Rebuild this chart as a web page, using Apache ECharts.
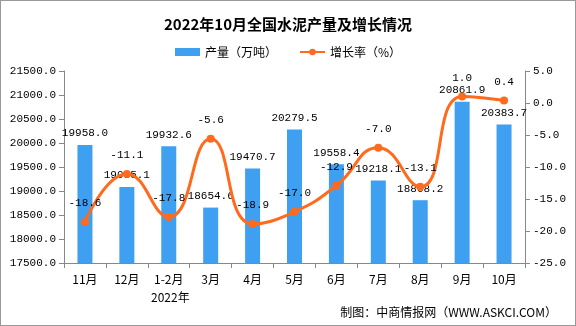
<!DOCTYPE html>
<html><head><meta charset="utf-8">
<script src="https://cdn.jsdelivr.net/npm/echarts@6/dist/echarts.min.js"></script>
<style>html,body{margin:0;padding:0;background:#fff}#c{width:576px;height:326px;box-sizing:border-box;border:1px solid #999}</style>
</head><body><div id="c"></div>
<script>
const categories = ['11月','12月','1-2月','3月','4月','5月','6月','7月','8月','9月','10月'];
const output = [19958.0, 19085.1, 19932.6, 18654.6, 19470.7, 20279.5, 19558.4, 19218.1, 18808.2, 20861.9, 20383.7];
const growth = [-18.6, -11.1, -17.8, -5.6, -18.9, -17.0, -12.9, -7.0, -13.1, 1.0, 0.4];
const titleText = '2022年10月全国水泥产量及增长情况';
const sourceText = '制图：中商情报网（WWW.ASKCI.COM）';
const yearText = '2022年';

const mono = '"Liberation Mono","DejaVu Sans Mono",monospace';
const fs = 11;
const chart = echarts.init(document.getElementById('c'));
chart.setOption({
  animation: false,
  title: { text: titleText, left: 'center', top: 11,
    textStyle: { fontSize: 15, fontWeight: 'bold', color: '#000', fontFamily: '"Noto Sans CJK SC",serif' } },
  legend: { top: 40, left: 'center', itemGap: 22, itemWidth: 25, itemHeight: 8,
    textStyle: { fontSize: 12, color: '#000', fontFamily: '"Noto Sans CJK SC",sans-serif' },
    data: [{name:'产量（万吨）', icon:'rect'}, {name:'增长率（%）'}] },
  grid: { left: 63, right: 50, top: 70, bottom: 62 },
  xAxis: { type: 'category', data: categories,
    axisLine: { onZero: false, lineStyle: { color: '#888' } },
    axisTick: { show: true, alignWithLabel: false, length: 5, lineStyle: { color: '#888' } },
    axisLabel: { color: '#000', fontSize: 12, margin: 10, fontFamily: '"Noto Sans CJK SC",sans-serif' } },
  yAxis: [
    { type: 'value', min: 17500, max: 21500, interval: 500,
      axisLine: { show: true, lineStyle: { color: '#888' } },
      axisTick: { show: true, length: 5, lineStyle: { color: '#888' } },
      splitLine: { show: false },
      axisLabel: { color: '#000', fontSize: fs, fontFamily: mono, formatter: v => v.toFixed(1) } },
    { type: 'value', min: -25, max: 5, interval: 5,
      axisLine: { show: true, lineStyle: { color: '#888' } },
      axisTick: { show: true, length: 5, lineStyle: { color: '#888' } },
      splitLine: { show: false },
      axisLabel: { color: '#000', fontSize: fs, fontFamily: mono, formatter: v => v.toFixed(1) } }
  ],
  series: [
    { name: '产量（万吨）', type: 'bar', data: output, barWidth: 15,
      itemStyle: { color: '#3FA0F2' },
      label: { show: true, position: 'top', distance: 6, color: '#000', fontSize: fs, fontFamily: mono,
        formatter: p => p.value.toFixed(1) } },
    { name: '增长率（%）', type: 'line', yAxisIndex: 1, data: growth, smooth: true,
      symbol: 'circle', symbolSize: 8,
      lineStyle: { color: '#FF6A1C', width: 3 }, itemStyle: { color: '#FF6A1C' },
      label: { show: true, position: 'top', distance: 9, color: '#000', fontSize: fs, fontFamily: mono,
        formatter: p => p.value.toFixed(1) } }
  ],
  graphic: [
    { type: 'text', left: 150, top: 290, style: { text: yearText, fill: '#000', font: '12px "Noto Sans CJK SC",sans-serif' } },
    { type: 'text', right: 18, top: 305, style: { text: sourceText, fill: '#000', font: '12px "Noto Sans CJK SC",sans-serif' } }
  ]
});
</script></body></html>
